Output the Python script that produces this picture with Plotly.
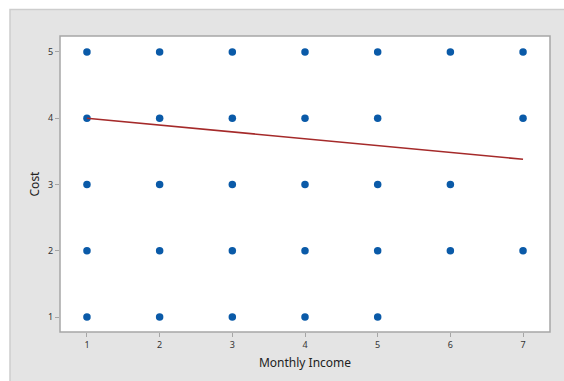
import plotly.graph_objects as go

# Data (observed combinations of Monthly Income and Cost)
income = [1, 2, 3, 4, 5, 6, 7,
          1, 2, 3, 4, 5, 7,
          1, 2, 3, 4, 5, 6,
          1, 2, 3, 4, 5, 6, 7,
          1, 2, 3, 4, 5]
cost = [5, 5, 5, 5, 5, 5, 5,
        4, 4, 4, 4, 4, 4,
        3, 3, 3, 3, 3, 3,
        2, 2, 2, 2, 2, 2, 2,
        1, 1, 1, 1, 1]

# Fitted regression line
fit_x = [1, 7]
fit_y = [4.0, 3.38]

x_ticks = [1, 2, 3, 4, 5, 6, 7]
y_ticks = [1, 2, 3, 4, 5]

W, H = 564, 381
ml, mr, mt, mb = 60, 14, 36, 49
pw, ph = W - ml - mr, H - mt - mb

def px(xp):
    return (xp - ml) / pw

def py(yp):
    return (H - mb - yp) / ph

fig = go.Figure()
fig.add_trace(go.Scatter(
    x=income, y=cost, mode="markers",
    marker=dict(color="#0a5aa8", size=7.5, symbol="circle"),
    showlegend=False, hoverinfo="skip"))
fig.add_trace(go.Scatter(
    x=fit_x, y=fit_y, mode="lines",
    line=dict(color="#a52a2a", width=1.6),
    showlegend=False, hoverinfo="skip"))

shapes = [
    dict(type="rect", xref="paper", yref="paper",
         x0=px(10), x1=px(W + 5), y0=py(H + 5), y1=py(9.5),
         fillcolor="#e4e4e4", line=dict(color="#cdcdcd", width=1.5), layer="below"),
    dict(type="rect", xref="paper", yref="paper",
         x0=0, x1=1, y0=0, y1=1,
         fillcolor="white", line=dict(color="#a6a6a6", width=1.5), layer="below"),
]

axis_common = dict(showgrid=False, zeroline=False, showline=False,
                   ticks="outside", ticklen=4, tickwidth=1, tickcolor="#a6a6a6",
                   tickfont=dict(size=9, color="#333333"))

fig.update_layout(
    width=W, height=H,
    margin=dict(l=ml, r=mr, t=mt, b=mb),
    paper_bgcolor="white", plot_bgcolor="rgba(0,0,0,0)",
    font=dict(family="Noto Sans, Open Sans, sans-serif", color="#222222"),
    shapes=shapes,
    xaxis=dict(range=[0.629, 7.371], tickvals=x_ticks,
               title=dict(text="Monthly Income", font=dict(size=12, color="#222222"), standoff=8),
               **axis_common),
    yaxis=dict(range=[0.774, 5.24], tickvals=y_ticks,
               title=dict(text="Cost", font=dict(size=12, color="#222222"), standoff=5),
               **axis_common),
)

fig.write_html("out.html")
